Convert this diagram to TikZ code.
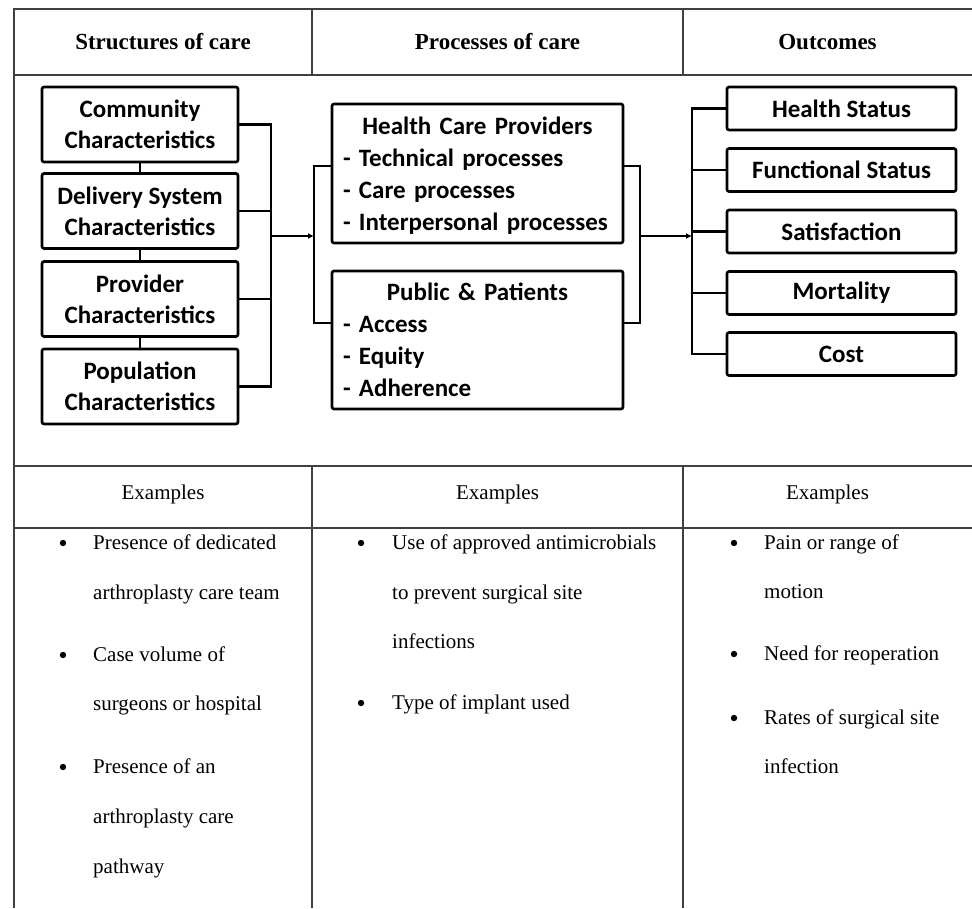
\documentclass[tikz,border=0pt]{standalone}
\usepackage{fontspec}
\setmainfont{Liberation Serif}
\newfontfamily\boxfont{Carlito}
\usetikzlibrary{arrows.meta}

\begin{document}
\begin{tikzpicture}[x=1pt, y=-1pt,
	rule/.style={draw=black!75, line width=1.1pt},
	box/.style={draw, line width=2.6pt, rounded corners=2pt, inner sep=0pt, align=center,
		font=\boxfont\bfseries\fontsize{25}{31}\selectfont},
	conn/.style={line width=2.4pt},
	tip/.style={-{Latex[length=6pt, width=6pt]}},
	head/.style={font=\bfseries\fontsize{23}{27}\selectfont},
	cell/.style={font=\fontsize{21}{25}\selectfont, inner sep=0pt}]
	\useasboundingbox (0,0) rectangle (972,908);

	\draw[rule] (14,908) -- (14,9) -- (972,9);
	\draw[rule] (14,75) -- (972,75);
	\draw[rule] (14,466) -- (972,466);
	\draw[rule] (14,528) -- (972,528);
	\foreach \x in {312,683} {
		\draw[rule] (\x,9) -- (\x,75);
		\draw[rule] (\x,466) -- (\x,908);
	}

	\node[head] (hstruct) at (163,42) {Structures of care};
	\node[head] (hproc) at (497.5,42) {Processes of care};
	\node[head] (hout) at (827.5,42) {Outcomes};

	\node[box, minimum width=196pt, minimum height=75pt] (comm) at (140,124.5) {Community\\Characteristics};
	\node[box, minimum width=196pt, minimum height=75pt] (deliv) at (140,211) {Delivery System\\Characteristics};
	\node[box, minimum width=196pt, minimum height=75pt] (prov) at (140,299) {Provider\\Characteristics};
	\node[box, minimum width=196pt, minimum height=75pt] (pop) at (140,386.5) {Population\\Characteristics};

	\draw[conn] (comm) -- (deliv);
	\draw[conn] (deliv) -- (prov);
	\draw[conn] (prov) -- (pop);

	\node[box, align=left, text width=269pt, inner xsep=11pt, minimum height=139pt,
		font=\boxfont\bfseries\fontsize{25}{32}\selectfont] (hcp) at (477.5,173.5)
		{\makebox[\linewidth]{\rule{0pt}{21pt}Health Care Providers}\\- Technical processes\\- Care processes\\- Interpersonal processes};
	\node[box, align=left, text width=269pt, inner xsep=11pt, minimum height=138pt,
		font=\boxfont\bfseries\fontsize{25}{32}\selectfont] (pub) at (477.5,340)
		{\makebox[\linewidth]{Public \& Patients}\\- Access\\- Equity\\- Adherence};

	\node[box, minimum width=229pt, minimum height=43pt] (hs) at (841.5,108.5) {Health Status};
	\node[box, minimum width=229pt, minimum height=43pt] (fs) at (841.5,170) {Functional Status};
	\node[box, minimum width=229pt, minimum height=43pt] (sat) at (841.5,231.5) {Satisfaction};
	\node[box, minimum width=229pt, minimum height=43pt] (mort) at (841.5,293) {Mortality};
	\node[box, minimum width=229pt, minimum height=43pt] (cost) at (841.5,354) {Cost};

	\coordinate (lbus) at (271,236);
	\coordinate (mbus) at (314,236);
	\coordinate (rbus) at (640,236);
	\coordinate (obus) at (692,236);

	\draw[conn] (comm.east) -| (lbus) |- (pop.east);
	\draw[conn] (deliv.east) -- (deliv.east -| lbus);
	\draw[conn] (prov.east) -- (prov.east -| lbus);
	\draw[conn, tip] (lbus) -- (mbus);

	\draw[conn] ([yshift=7.5pt]hcp.west) -| (mbus) |- ([yshift=17pt]pub.west);
	\draw[conn] ([yshift=7.5pt]hcp.east) -| (rbus) |- ([yshift=17pt]pub.east);
	\draw[conn, tip] (rbus) -- (obus);

	\draw[conn] (hs.west) -| (obus) |- (cost.west);
	\draw[conn] (fs.west) -- (fs.west -| obus);
	\draw[conn] (sat.west) -- (sat.west -| obus);
	\draw[conn] (mort.west) -- (mort.west -| obus);

	\node[cell] (ex1) at (163,494) {Examples};
	\node[cell] (ex2) at (497.5,494) {Examples};
	\node[cell] (ex3) at (827.5,494) {Examples};

	\foreach \y/\t [count=\i] in {549/Presence of dedicated, 599/arthroplasty care team,
		661/Case volume of, 710/surgeons or hospital, 773/Presence of an,
		823/arthroplasty care, 873/pathway}
		\node[cell, anchor=base west] (s\i) at (93,\y) {\t};
	\foreach \y in {543,655,767}
		\fill (63,\y) circle [radius=3.2];

	\foreach \y/\t [count=\i] in {549/Use of approved antimicrobials, 599/to prevent surgical site,
		648/infections, 709/Type of implant used}
		\node[cell, anchor=base west] (p\i) at (392,\y) {\t};
	\foreach \y in {543,703}
		\fill (361,\y) circle [radius=3.2];

	\foreach \y/\t [count=\i] in {549/Pain or range of, 598/motion,
		660/Need for reoperation, 724/Rates of surgical site, 773/infection}
		\node[cell, anchor=base west] (o\i) at (764,\y) {\t};
	\foreach \y in {543,654,718}
		\fill (734,\y) circle [radius=3.2];
\end{tikzpicture}
\end{document}
